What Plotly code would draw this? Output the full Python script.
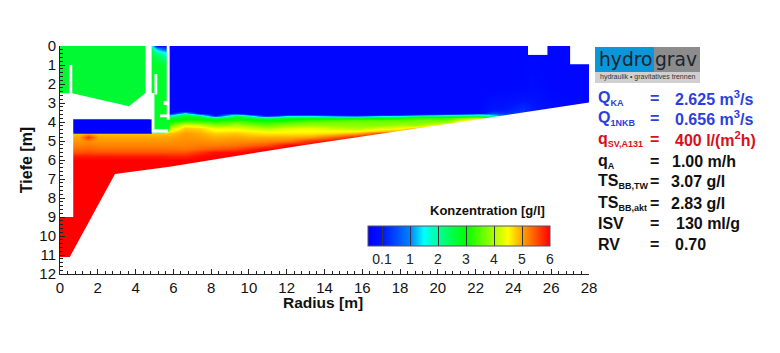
import numpy as np
import plotly.graph_objects as go

# ---------- data ----------
main_depth = [0, 2.2, 3.3, 3.4, 3.5, 3.6, 3.65, 3.7, 3.75, 3.8, 3.9, 4.0, 4.15, 4.3, 4.45, 4.6, 4.8, 5.0, 5.2, 5.4, 5.6, 5.8, 6.0, 6.3, 6.6, 11.2]
main_radius = [0, 1, 1.5, 2, 3, 4, 5, 5.3, 5.75, 6.6, 7.4, 8.2, 9.3, 10, 10.9, 12.2, 13.2, 14.5, 15.7, 17, 18, 18.8, 20.5, 22.1, 22.9, 23.5, 24.5, 25, 26, 28]
b = 0.03

def prof(lead, vals):
    # lead: how many clear-water levels at the top; the last reading holds down to the floor
    out = [b] * lead + list(vals)
    return out + [vals[-1]] * (len(main_depth) - len(out))

under_box = prof(15, [4.8, 5.0, 5.1, 5.2, 5.35, 5.5, 5.85, 6])
under_spot = prof(15, [4.9, 5.7, 5.15, 5.25, 5.4, 5.55, 5.85, 6])
main_profiles = [
    under_box, under_box, under_spot, under_box, under_box, under_box, under_box, under_box,
    prof(5, [.5, 1.2, 1.9, 2.3, 2.6, 2.9, 3.1, 3.5, 4.0, 4.5, 4.8, 5.0, 5.1, 5.2, 5.35, 5.5, 5.8, 6]),
    prof(3, [.05, 1.5, 2.3, 2.6, 2.8, 2.9, 3.0, 3.1, 3.6, 4.4, 4.8, 4.95, 5.05, 5.1, 5.15, 5.2, 5.3, 5.5, 5.8, 6]),
    prof(5, [.8, 1.8, 2.5, 2.8, 2.95, 3.1, 3.5, 4.2, 4.7, 4.85, 4.95, 5.05, 5.15, 5.25, 5.4, 5.7, 5.95, 6]),
    prof(6, [.05, .6, 1.7, 2.4, 3, 3.3, 3.8, 4.4, 4.55, 4.75, 4.95, 5.1, 5.25, 5.5, 5.9, 6]),
    prof(5, [1.0, 2, 2.5, 2.8, 3, 3.2, 3.6, 4.0, 4.4, 4.6, 4.8, 5, 5.15, 5.3, 5.6, 5.95, 6]),
    prof(5, [.1, 1.1, 2, 2.5, 2.8, 3.05, 3.4, 3.8, 4.2, 4.55, 4.7, 4.95, 5.15, 5.4, 5.8, 6]),
    prof(6, [.05, .4, 1.6, 2.3, 2.95, 3.2, 3.6, 4, 4.45, 4.6, 4.95, 5.2, 5.5, 6]),
    prof(6, [.5, 1.7, 2.4, 2.8, 3.1, 3.4, 3.85, 4.3, 4.5, 4.6, 4.95, 5.3, 6]),
    prof(6, [.6, 1.6, 2.5, 2.9, 3.3, 3.6, 3.9, 4.4, 4.5, 4.6, 5, 5.7, 6]),
    prof(6, [.2, 1.2, 2.3, 2.8, 3.4, 3.7, 3.85, 4.2, 4.45, 4.7, 5.4, 6]),
    prof(6, [.1, 1, 2.2, 2.9, 3.5, 3.7, 3.8, 4.0, 4.5, 4.9, 5.9, 6]),
    prof(6, [.3, 1.5, 2.5, 3, 3.5, 3.7, 3.8, 4.3, 4.8, 5.6, 6]),
    prof(6, [.5, 1.7, 2.6, 3.1, 3.5, 3.7, 4.0, 4.4, 5, 6]),
    prof(5, [.1, 1, 2.1, 2.8, 3.3, 3.6, 3.7, 3.9, 4.9, 6]),
    prof(5, [.3, 1.5, 2.4, 3, 3.4, 3.6, 3.9, 4.7, 5.5, 6]),
    prof(4, [.03, 1.2, 1.9, 2.6, 3.4, 4.2, 5, 6]),
    prof(2, [.1, .2, .5, 1, 1.3, 2, 2.6, 3.2, 4.5]),
    prof(2, [.1, .2, .3, .5, .7, 1]),
    prof(1, [.04, .3, .35, .4]),
    prof(1, [.06, .15]),
    prof(2, [.06]),
    prof(25, [b]),
]
channel_radius = [4.85, 5.1, 5.4, 5.75, 5.76]
channel_depth = [0, 0.12, 0.3, 0.6, 1.0, 4.5, 4.51]
channel_conc = [[2.0, 0.1, 0.1, 0.1, 0.1], [2.3, 1.1, 0.6, 0.4, 0.4], [2.6, 1.9, 1.6, 1.3, 1.3],
                [2.75, 2.5, 2.2, 2.0, 2.0], [2.75, 2.75, 2.7, 2.6, 2.6], [2.75, 2.75, 2.75, 2.75, 2.75],
                [2.75, 2.75, 2.75, 2.75, 2.75]]

inner_r = [0, 4.6, 4.6, 0]
inner_d = [0, 0, 3.3, 3.3]
box_r = [0.7, 4.86, 4.86, 0.7]
box_d = [3.85, 3.85, 4.62, 4.62]

floor_r = [0, 0.52, 2.91, 5.8, 12.7, 23.8, 28, 28.5, 28.5, 0]
floor_d = [11.1, 11.1, 6.74, 6.35, 5.25, 3.6, 2.98, 2.98, 12.5, 12.5]
gap_r = [-0.5, 0.65, 3.65, 4.53, 5.0, 5.0, 4.85, 4.85, 0.7, 0.7, -0.5]
gap_d = [2.49, 2.49, 3.17, 2.47, 2.47, 4.38, 4.38, 3.85, 3.85, 9.0, 9.0]
wall_a_r, wall_a_d = [4.53, 4.85, 4.85, 4.53], [-0.2, -0.2, 2.5, 2.5]
wall_b_r, wall_b_d = [5.65, 5.8, 5.8, 5.65], [-0.2, -0.2, 3.88, 3.88]
sill_r, sill_d = [4.85, 5.73, 5.73, 4.85], [4.38, 4.38, 4.56, 4.56]
slit_a_r, slit_a_d = [0.5, 0.65, 0.65, 0.5], [1.0, 1.0, 2.55, 2.55]
slit_b_r, slit_b_d = [5.0, 5.15, 5.15, 5.0], [1.47, 1.47, 2.55, 2.55]
notch_a_r, notch_a_d = [5.49, 5.7, 5.7, 5.49], [2.89, 2.89, 3.1, 3.1]
notch_b_r, notch_b_d = [5.29, 5.7, 5.7, 5.29], [3.6, 3.6, 3.75, 3.75]
notch_c_r, notch_c_d = [24.77, 25.8, 25.8, 24.77], [-0.2, -0.2, 0.47, 0.47]
notch_d_r, notch_d_d = [27.0, 28.5, 28.5, 27.0], [-0.2, -0.2, 0.96, 0.96]
masks = [(floor_r, floor_d), (gap_r, gap_d), (wall_a_r, wall_a_d), (wall_b_r, wall_b_d), (sill_r, sill_d),
         (slit_a_r, slit_a_d), (slit_b_r, slit_b_d), (notch_a_r, notch_a_d), (notch_b_r, notch_b_d),
         (notch_c_r, notch_c_d), (notch_d_r, notch_d_d)]

bar_levels = [0.1, 1, 2, 3, 4, 5, 6]
bar_labels = ['0.1', '1', '2', '3', '4', '5', '6']
x_ticks = list(range(0, 29, 2))
y_ticks = list(range(0, 13))

def sub(s):
    return f'<sub><span style="font-size:9px">{s}</span></sub>'

rows = [
    ('Q' + sub('KA'), '2.625 m<sup>3</sup>/s', 98, 674, '#2a3fe0'),
    ('Q' + sub('1NKB'), '0.656 m<sup>3</sup>/s', 118, 674, '#2a3fe0'),
    ('q' + sub('SV,A131'), '400 l/(m<sup>2</sup>h)', 139, 674, '#d8101c'),
    ('q' + sub('A'), '1.00 m/h', 161, 671, '#111111'),
    ('TS' + sub('BB,TW'), '3.07 g/l', 181, 670, '#111111'),
    ('TS' + sub('BB,akt'), '2.83 g/l', 203, 670, '#111111'),
    ('ISV', '130 ml/g', 223, 675, '#111111'),
    ('RV', '0.70', 244, 674, '#111111'),
]

# ---------- layout helpers ----------
W, H = 780, 353
L, R, T, B = 60, 589, 46, 274
def px(x): return (x - L) / (R - L)
def py(y): return (B - y) / (B - T)
def pos(v):
    return np.interp(np.asarray(v, float), [0, 0.1, 1, 6], [0, 0.5, 1.5, 6.5])

stops = [(0, '#0000ff'), (0.5, '#0014ff'), (1.5, '#0082ff'), (2.0, '#00ffff'), (2.5, '#00ff96'),
         (3.5, '#00ff00'), (4.5, '#aaff00'), (5.0, '#ffff00'), (5.5, '#ffa500'), (6.5, '#ff0000')]
colorscale = [[p / 6.5, c] for p, c in stops]

fig = go.Figure()
fig.add_trace(go.Heatmap(x=main_radius, y=main_depth, z=pos(np.array(main_profiles).T), coloraxis='coloraxis',
                         zsmooth='best', hoverinfo='skip'))
fig.add_trace(go.Scatter(x=inner_r, y=inner_d, mode='lines', fill='toself', fillcolor='#00f932',
                         line=dict(width=0), hoverinfo='skip'))
fig.add_trace(go.Heatmap(x=channel_radius, y=channel_depth, z=pos(channel_conc), coloraxis='coloraxis',
                         zsmooth='best', hoverinfo='skip'))
fig.add_trace(go.Scatter(x=box_r, y=box_d, mode='lines', fill='toself', fillcolor='#0000ff',
                         line=dict(width=0), hoverinfo='skip'))
for mr, md in masks:
    fig.add_trace(go.Scatter(x=mr, y=md, mode='lines', fill='toself', fillcolor='white',
                             line=dict(width=0, color='white'), hoverinfo='skip', showlegend=False))

fig.update_layout(
    width=W, height=H, autosize=False, showlegend=False,
    margin=dict(l=L, r=W - R, t=T, b=H - B, autoexpand=False),
    paper_bgcolor='white', plot_bgcolor='white',
    font=dict(family='Liberation Sans', color='#111111'),
    coloraxis=dict(
        cmin=0, cmax=6.5, colorscale=colorscale,
        colorbar=dict(orientation='h', lenmode='pixels', len=182, thicknessmode='pixels', thickness=20,
                      x=px(368), xanchor='left', y=py(226), yanchor='top', xpad=0, ypad=0,
                      tickmode='array', tickvals=[float(pos(v)) for v in bar_levels], ticktext=bar_labels,
                      ticks='inside', ticklen=20, tickcolor='#333344', tickwidth=1,
                      tickfont=dict(size=14, family='Liberation Sans', color='#222222'),
                      outlinecolor='#555566', outlinewidth=1, borderwidth=0),
    ),
    xaxis=dict(range=[0, 28], tickmode='array', tickvals=x_ticks, ticks='inside', ticklen=5, tickwidth=1,
               tickcolor='#222222', showgrid=False, zeroline=False, showline=True, linecolor='#222222', linewidth=1,
               tickfont=dict(size=15),
               minor=dict(dtick=0.4, tick0=0, ticks='inside', ticklen=3, tickcolor='#222222', tickwidth=1, showgrid=False)),
    yaxis=dict(range=[12, 0], tickmode='array', tickvals=y_ticks, ticks='inside', ticklen=5, tickwidth=1,
               tickcolor='#222222', showgrid=False, zeroline=False, showline=True, linecolor='#222222', linewidth=1,
               tickfont=dict(size=15), title=dict(text='<b>Tiefe [m]</b>', font=dict(size=16), standoff=2),
               minor=dict(dtick=0.2, tick0=0, ticks='inside', ticklen=3, tickcolor='#222222', tickwidth=1, showgrid=False)),
)

def text(x, y, s, size=16, color='#111111', xanchor='left', family='Liberation Sans'):
    fig.add_annotation(xref='paper', yref='paper', x=px(x), y=py(y), text=s, showarrow=False, xanchor=xanchor,
                       yanchor='middle', font=dict(size=size, color=color, family=family), borderpad=0)

text(322.5, 302, '<b>Radius [m]</b>', size=15.5, xanchor='center')
text(487, 211, '<b>Konzentration [g/l]</b>', size=13, xanchor='center')

for label, value, y, vx, color in rows:
    text(597, y, f'<b>{label}</b>', color=color)
    text(649, y, '<b>=</b>', color=color)
    text(vx, y, f'<b>{value}</b>', color=color)

# logo
for x0, x1, y0, y1, col in [(595, 654, 47, 72, '#0a96d8'), (654, 700, 47, 72, '#8c8c8c'), (595, 700, 72, 83, '#d0d0d0')]:
    fig.add_shape(type='rect', xref='paper', yref='paper', x0=px(x0), x1=px(x1), y0=py(y1), y1=py(y0),
                  fillcolor=col, line=dict(width=0), layer='below')
text(598, 60, 'hydro', size=18.7, color='#1a2530', family='DejaVu Sans')
text(654, 60, 'grav', size=18.7, color='#1a2530', family='DejaVu Sans')
text(647.5, 77, 'hydraulik • gravitatives trennen', size=7, color='#333333', xanchor='center')

fig.write_html('out.html', config={'displayModeBar': False}, post_script="document.body.style.margin='0';")
